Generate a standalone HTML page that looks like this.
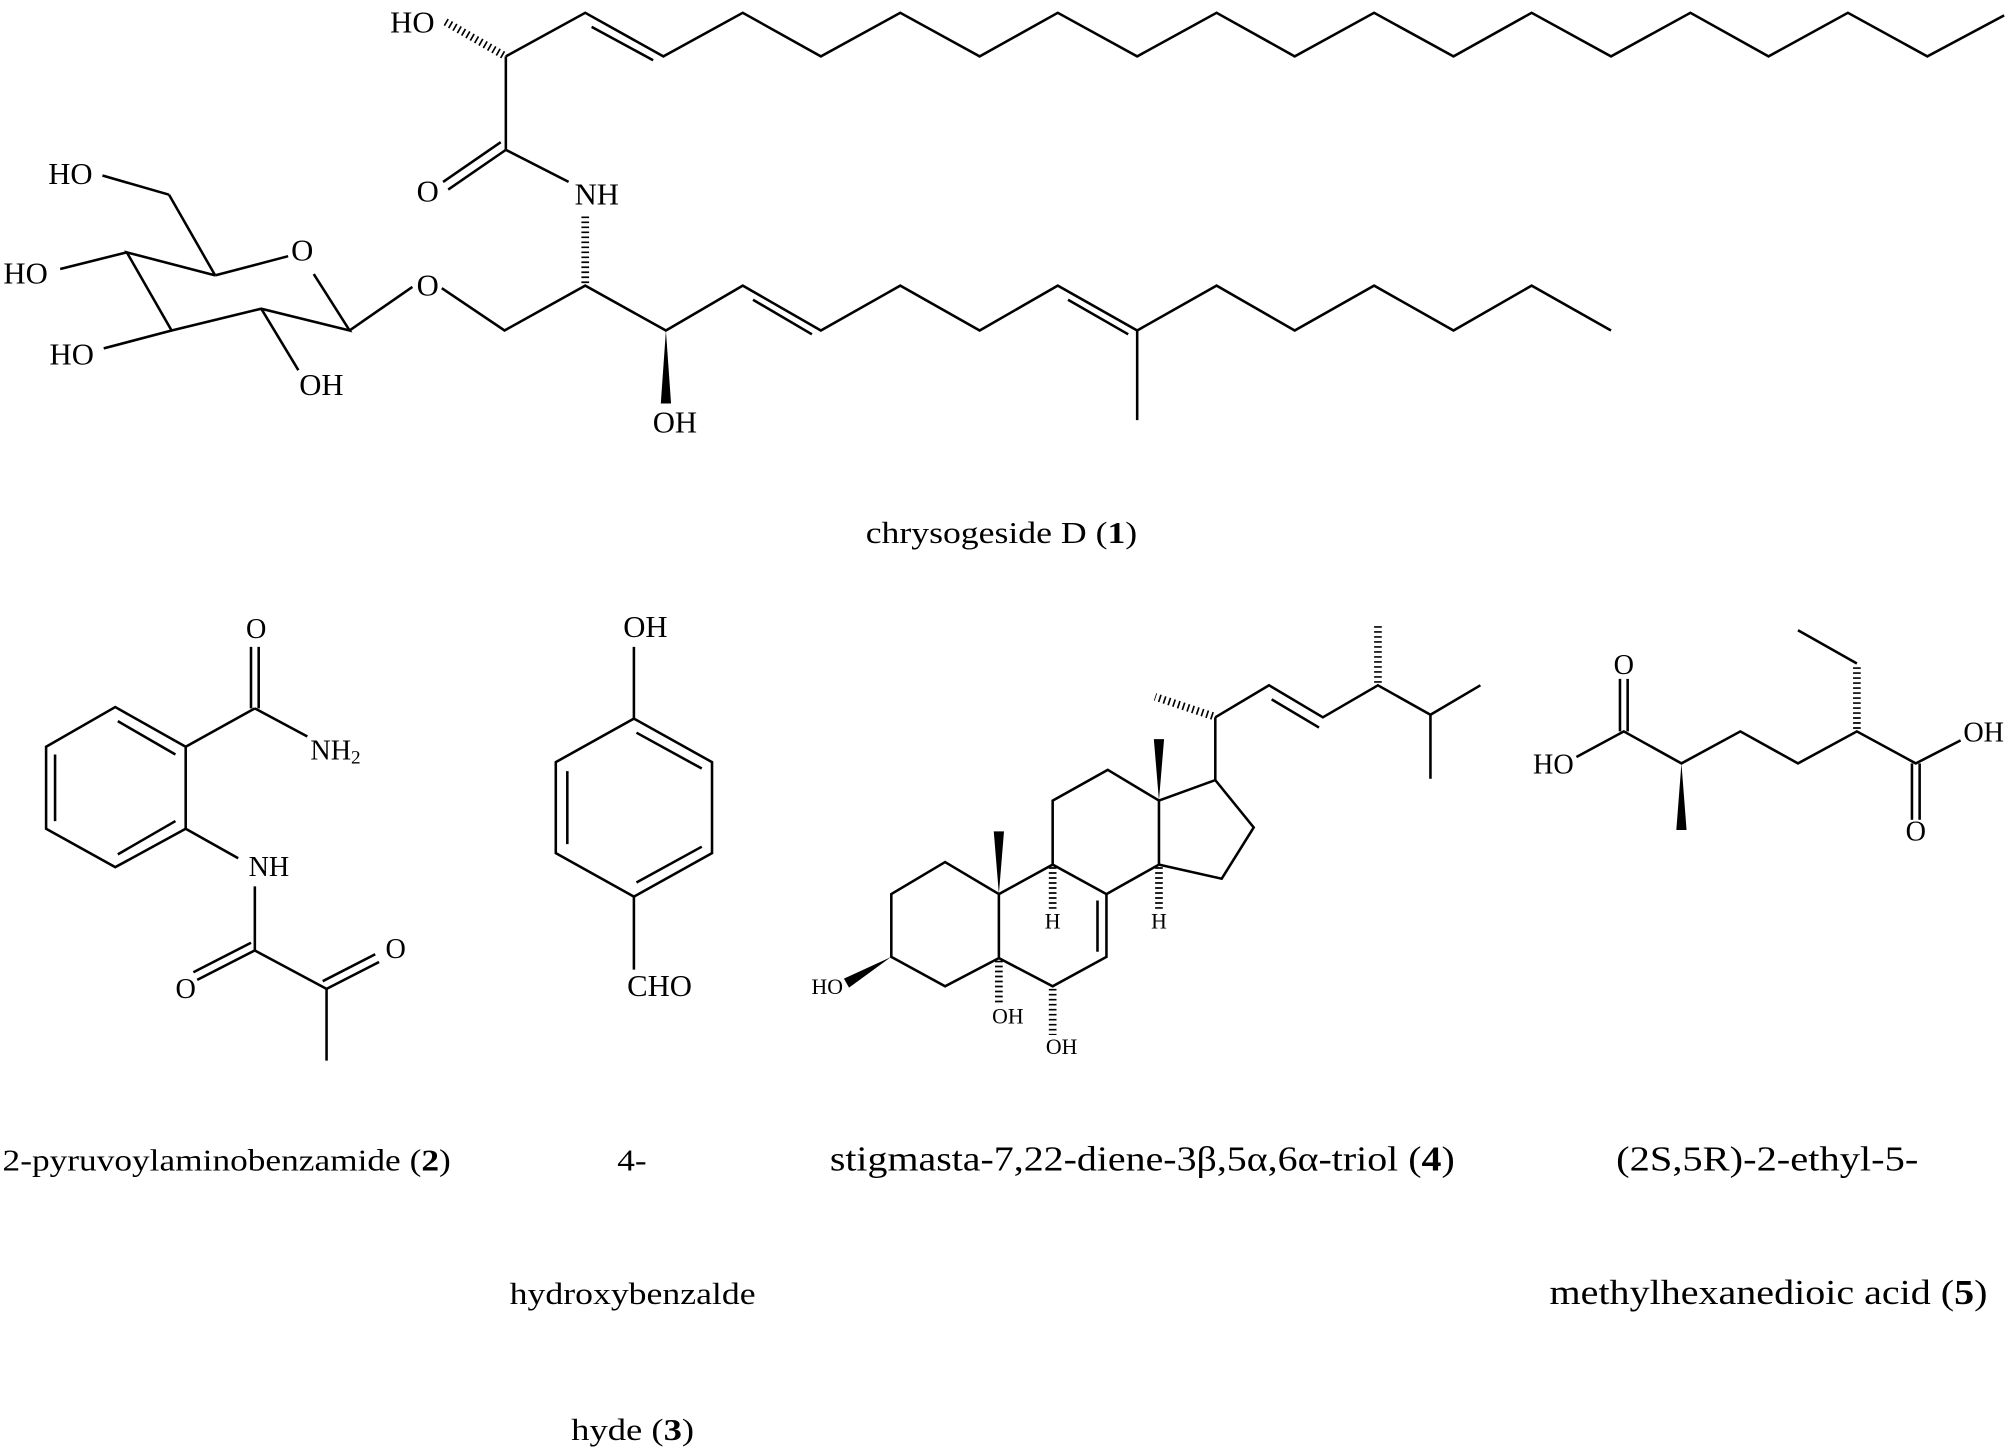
<!DOCTYPE html>
<html><head><meta charset="utf-8"><style>
html,body{margin:0;padding:0;background:#fff;}
svg{display:block;}
text{font-family:"Liberation Serif",serif;fill:#000;}
</style></head><body>
<svg width="2008" height="1450" viewBox="0 0 1568 1132" preserveAspectRatio="none" xmlns="http://www.w3.org/2000/svg" font-family="Liberation Serif, serif">
<g fill="none" stroke="#000" stroke-width="2" stroke-linejoin="miter">
<polyline points="395,44 457,10 518,44 580,10 641,44 703,10 765,44 826,10 888,44 950,10 1011,44 1073,10 1135,44 1196,10 1258,44 1320,10 1381,44 1443,10 1505,44 1565,12"/>
<line x1="462" y1="21" x2="510" y2="47"/>
<line x1="395" y1="44" x2="395" y2="117"/>
<line x1="395" y1="117" x2="350" y2="148"/>
<line x1="391" y1="111" x2="346" y2="142"/>
<line x1="395" y1="117" x2="444" y2="142"/>
<polyline points="168,215 99,197 134,258 204,241 273,258 245,214"/>
<line x1="168" y1="215" x2="225" y2="200"/>
<line x1="168" y1="215" x2="132" y2="152"/>
<line x1="132" y1="152" x2="80" y2="137"/>
<line x1="99" y1="197" x2="47" y2="210"/>
<line x1="134" y1="258" x2="81" y2="272"/>
<line x1="204" y1="241" x2="233" y2="289"/>
<line x1="273" y1="258" x2="322" y2="224"/>
<polyline points="345,225 394,258 457,223 520,258 580,223 641,258 703,223 765,258 826,223 888,258 950,223 1011,258 1073,223 1135,258 1196,223 1258,258"/>
<line x1="588" y1="234" x2="634" y2="261"/>
<line x1="834" y1="234" x2="881" y2="261"/>
<line x1="888" y1="258" x2="888" y2="328"/>
<polygon points="90,552 145,583 145,647 90,677 36,647 36,583"/>
<line x1="92" y1="563" x2="137" y2="589"/>
<line x1="43" y1="589" x2="43" y2="641"/>
<line x1="92" y1="667" x2="137" y2="641"/>
<line x1="145" y1="583" x2="199" y2="553"/>
<line x1="196" y1="553" x2="196" y2="505"/>
<line x1="202" y1="553" x2="202" y2="505"/>
<line x1="199" y1="553" x2="240" y2="575"/>
<line x1="145" y1="647" x2="186" y2="670"/>
<line x1="199" y1="692" x2="199" y2="742"/>
<line x1="199" y1="742" x2="154" y2="765"/>
<line x1="196" y1="736" x2="151" y2="759"/>
<line x1="199" y1="742" x2="255" y2="772"/>
<line x1="255" y1="772" x2="296" y2="751"/>
<line x1="252" y1="766" x2="293" y2="745"/>
<line x1="255" y1="772" x2="255" y2="828"/>
<polygon points="495,561 556,595 556,666 495,700 434,666 434,595"/>
<line x1="497" y1="572" x2="548" y2="600"/>
<line x1="443" y1="602" x2="443" y2="659"/>
<line x1="497" y1="689" x2="548" y2="661"/>
<line x1="495" y1="505" x2="495" y2="561"/>
<line x1="495" y1="700" x2="495" y2="757"/>
<polygon points="738,673 780,698 780,748 738,770 696,747 696,698"/>
<polyline points="780,698 822,675 864,698 864,747 822,770 780,748"/>
<line x1="857" y1="703" x2="857" y2="743"/>
<polyline points="822,675 822,625 865,601 905,625 905,675 864,698"/>
<polyline points="905,625 949,609 979,646 954,686 905,675"/>
<line x1="949" y1="609" x2="949" y2="560"/>
<polyline points="949,560 991,535 1033,560 1076,535 1117,558 1156,535"/>
<line x1="993" y1="546" x2="1030" y2="568"/>
<line x1="1117" y1="558" x2="1117" y2="608"/>
<polyline points="1231,591 1268,571 1313,596 1359,571 1404,596 1450,571 1496,596 1531,578"/>
<line x1="1265" y1="571" x2="1265" y2="530"/>
<line x1="1271" y1="571" x2="1271" y2="530"/>
<line x1="1493" y1="596" x2="1493" y2="640"/>
<line x1="1499" y1="596" x2="1499" y2="640"/>
<line x1="1450" y1="518" x2="1404" y2="492"/>
</g>
<g fill="#000" stroke="none">
<polygon points="520,258 516,315 524,315"/>
<polygon points="780,698 776,649 784,649"/>
<polygon points="905,625 901,577 909,577"/>
<polygon points="696,747 659,764 663,771"/>
<polygon points="1313,596 1309,648 1317,648"/>
</g>
<g fill="none" stroke="#000" stroke-width="6" stroke-dasharray="1.3 2.6">
<line x1="393" y1="43" x2="346" y2="16"/>
<line x1="457" y1="221" x2="457" y2="167"/>
<line x1="780" y1="750" x2="780" y2="785"/>
<line x1="822" y1="772" x2="822" y2="808"/>
<line x1="822" y1="677" x2="822" y2="711"/>
<line x1="905" y1="677" x2="905" y2="711"/>
<line x1="947" y1="559" x2="902" y2="544"/>
<line x1="1076" y1="533" x2="1076" y2="487"/>
<line x1="1450" y1="569" x2="1450" y2="519"/>
</g>
<g font-size="24" text-anchor="middle">
<text x="322" y="20" dominant-baseline="middle">HO</text>
<text x="334" y="152" dominant-baseline="middle">O</text>
<text x="466" y="154" dominant-baseline="middle">NH</text>
<text x="55" y="138" dominant-baseline="middle">HO</text>
<text x="20" y="216" dominant-baseline="middle">HO</text>
<text x="236" y="198" dominant-baseline="middle">O</text>
<text x="334" y="225" dominant-baseline="middle">O</text>
<text x="56" y="279" dominant-baseline="middle">HO</text>
<text x="251" y="303" dominant-baseline="middle">OH</text>
<text x="527" y="332" dominant-baseline="middle">OH</text>
<text x="200" y="493" dominant-baseline="middle" font-size="22">O</text>
<text x="262" y="588" dominant-baseline="middle" font-size="22">NH<tspan font-size="15" dy="5">2</tspan></text>
<text x="210" y="679" dominant-baseline="middle" font-size="22">NH</text>
<text x="145" y="774" dominant-baseline="middle" font-size="22">O</text>
<text x="309" y="743" dominant-baseline="middle" font-size="22">O</text>
<text x="504" y="492" dominant-baseline="middle">OH</text>
<text x="515" y="772" dominant-baseline="middle">CHO</text>
<text x="646" y="772" dominant-baseline="middle" font-size="17">HO</text>
<text x="787" y="795" dominant-baseline="middle" font-size="17">OH</text>
<text x="829" y="819" dominant-baseline="middle" font-size="17">OH</text>
<text x="822" y="721" dominant-baseline="middle" font-size="17">H</text>
<text x="905" y="721" dominant-baseline="middle" font-size="17">H</text>
<text x="1268" y="521" dominant-baseline="middle" font-size="22">O</text>
<text x="1213" y="599" dominant-baseline="middle" font-size="22">HO</text>
<text x="1496" y="651" dominant-baseline="middle" font-size="22">O</text>
<text x="1549" y="574" dominant-baseline="middle" font-size="22">OH</text>
</g>
<g font-size="24">
<text x="676" y="424" textLength="212" lengthAdjust="spacingAndGlyphs">chrysogeside D (<tspan font-weight="bold">1</tspan>)</text>
<text x="2" y="914" textLength="350" lengthAdjust="spacingAndGlyphs">2-pyruvoylaminobenzamide (<tspan font-weight="bold">2</tspan>)</text>
<text x="482" y="914" textLength="23" lengthAdjust="spacingAndGlyphs">4-</text>
<text x="398" y="1018" textLength="192" lengthAdjust="spacingAndGlyphs">hydroxybenzalde</text>
<text x="446" y="1124" textLength="96" lengthAdjust="spacingAndGlyphs">hyde (<tspan font-weight="bold">3</tspan>)</text>
<text x="648" y="914" font-size="27" textLength="488" lengthAdjust="spacingAndGlyphs">stigmasta-7,22-diene-3β,5α,6α-triol (<tspan font-weight="bold">4</tspan>)</text>
<text x="1262" y="914" font-size="27" textLength="236" lengthAdjust="spacingAndGlyphs">(2S,5R)-2-ethyl-5-</text>
<text x="1210" y="1018" font-size="27" textLength="342" lengthAdjust="spacingAndGlyphs">methylhexanedioic acid (<tspan font-weight="bold">5</tspan>)</text>
</g>
</svg>
</body></html>
